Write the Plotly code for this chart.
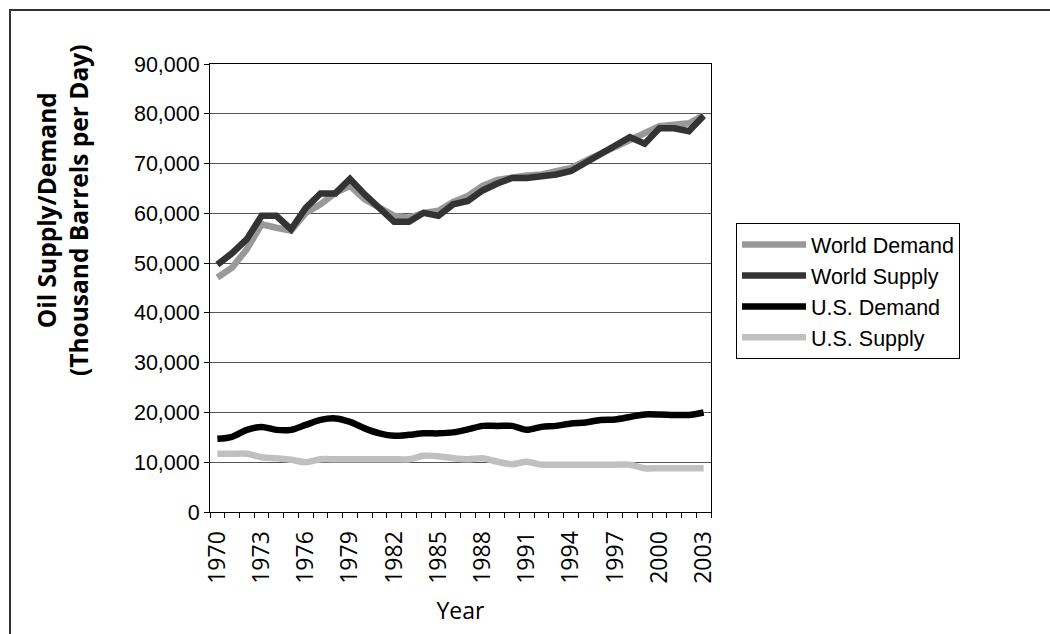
import plotly.graph_objects as go

# Annual oil balance, thousand barrels per day
years = list(range(1970, 2004))

world_demand = [47100, 49100, 52800, 57800, 57100, 56500, 60100, 61800, 64100, 65500,
                62800, 61100, 59500, 59100, 60100, 60500, 62300, 63500, 65500, 66700,
                67300, 67600, 67800, 68300, 69100, 70600, 72000, 73300, 74800, 76000,
                77500, 77800, 78100, 79700]
world_supply = [49700, 52000, 54800, 59500, 59500, 56800, 61100, 64000, 64000, 66900,
                63800, 60900, 58300, 58300, 60100, 59500, 61800, 62500, 64600, 66000,
                67100, 67100, 67300, 67800, 68500, 70200, 72000, 73700, 75300, 74000,
                77100, 77100, 76500, 79600]
us_demand = [14700, 15100, 16500, 17100, 16500, 16500, 17500, 18500, 18800, 18100,
             16800, 15800, 15300, 15500, 15800, 15800, 16000, 16600, 17300, 17300,
             17300, 16500, 17100, 17300, 17800, 18000, 18500, 18600, 19100, 19600,
             19600, 19500, 19500, 20000]
us_supply = [11700, 11700, 11700, 11000, 10800, 10500, 10000, 10600, 10600, 10600,
             10600, 10600, 10600, 10600, 11300, 11200, 10800, 10600, 10800, 10100,
             9600, 10100, 9500, 9500, 9500, 9500, 9500, 9500, 9500, 8800,
             8800, 8800, 8800, 8800]

series_names = ["World Demand", "World Supply", "U.S. Demand", "U.S. Supply"]
series_values = [world_demand, world_supply, us_demand, us_supply]
series_colors = ["#999999", "#333333", "#000000", "#c0c0c0"]
series_shapes = ["linear", "linear", "spline", "spline"]

label_years = list(range(1970, 2004, 3))

TITLE_FONT = "Open Sans, Lato, sans-serif"
TICK_FONT = "Liberation Sans, Arial, sans-serif"

fig = go.Figure()
for name, vals, color, shape in zip(series_names, series_values, series_colors, series_shapes):
    fig.add_trace(go.Scatter(
        x=years, y=vals, name=name, mode="lines",
        line=dict(color=color, width=6.5, shape=shape, smoothing=0.8),
    ))

W, H = 1050, 634
L, R, T, B = 210, 711, 64, 512

def px_x(v):
    return (v - L) / (R - L)

def px_y(v):
    return (B - v) / (B - T)

fig.update_layout(
    width=W, height=H,
    margin=dict(l=L, r=W - R, t=T, b=H - B, pad=0),
    paper_bgcolor="white", plot_bgcolor="white",
    showlegend=True,
    legend=dict(
        x=px_x(736), y=px_y(223), xanchor="left", yanchor="top",
        bgcolor="white", bordercolor="#000000", borderwidth=1,
        font=dict(family=TICK_FONT, size=21.5, color="#000000"),
        tracegroupgap=0, itemwidth=64,
    ),
    xaxis=dict(
        range=[1969.5, 2003.5],
        tickmode="array", tickvals=label_years, ticktext=[str(y) for y in label_years],
        tickangle=-90, ticks="", ticklabelstandoff=9,
        tickfont=dict(family=TITLE_FONT, size=23, color="#000000"),
        minor=dict(ticks="outside", tick0=1969.5, dtick=1, ticklen=5,
                   tickcolor="#000000", tickwidth=1, showgrid=False),
        showgrid=False, zeroline=False,
        showline=True, linecolor="#000000", linewidth=1, mirror=True,
        title=dict(text="Year", font=dict(family=TITLE_FONT, size=23, color="#000000"),
                   standoff=20),
    ),
    yaxis=dict(
        range=[0, 90000], tickmode="linear", tick0=0, dtick=10000,
        tickformat=",", ticks="outside", ticklen=5, tickcolor="#000000",
        tickfont=dict(family=TICK_FONT, size=21.5, color="#000000"),
        showgrid=True, gridcolor="#555555", gridwidth=1,
        zeroline=False,
        showline=True, linecolor="#000000", linewidth=1, mirror=True,
    ),
    annotations=[dict(
        text="Oil Supply/Demand<br>(Thousand Barrels per Day)",
        xref="paper", yref="paper", x=px_x(62), y=px_y(211),
        xanchor="center", yanchor="middle", textangle=-90, showarrow=False,
        font=dict(family=TITLE_FONT, size=24.5, color="#000000", weight="bold"),
    )],
    shapes=[dict(
        type="rect", xref="paper", yref="paper", layer="below",
        x0=px_x(10), x1=px_x(1070), y0=px_y(660), y1=px_y(10),
        line=dict(color="#333333", width=2), fillcolor="rgba(0,0,0,0)",
    )],
)

fig.write_html("out.html")
